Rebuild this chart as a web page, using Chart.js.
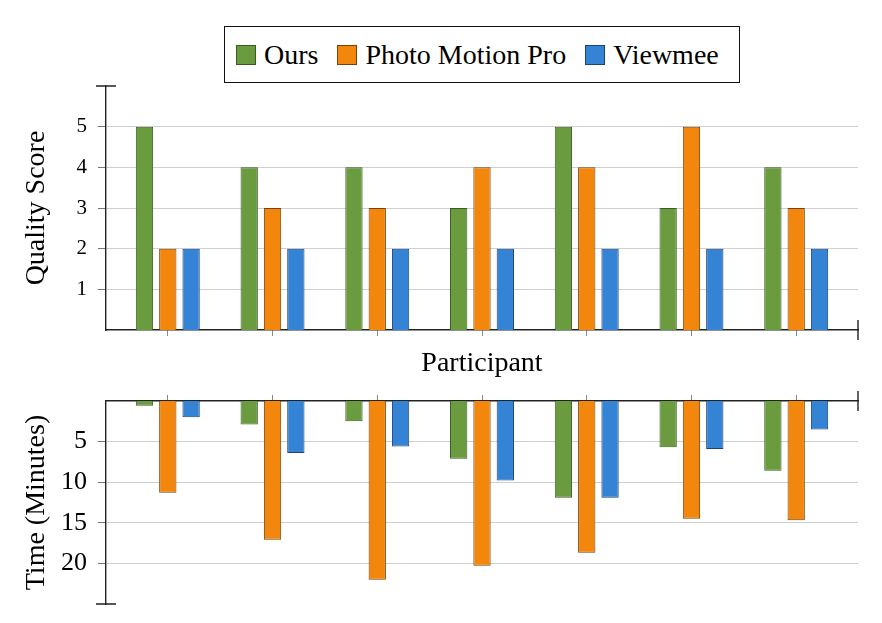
<!DOCTYPE html>
<html>
<head>
<meta charset="utf-8">
<script src="https://cdn.jsdelivr.net/npm/chart.js@4.4.1/dist/chart.umd.min.js"></script>
<style>
  body { margin: 0; background: #fff; width: 882px; height: 623px; position: relative; overflow: hidden; }
  canvas { position: absolute; left: 0; }
  #legend {
    position: absolute; left: 224px; top: 26px; width: 516px; height: 57px;
    border: 1.3px solid #111; display: flex; align-items: center; box-sizing: border-box;
    padding-left: 11px; font-family: "Liberation Serif", "Times New Roman", serif; font-size: 28px; color: #000;
  }
  #legend .item { display: flex; align-items: center; margin-right: 19px; }
  #legend .sw { width: 20px; height: 20px; margin-right: 8px; box-sizing: border-box; }
</style>
</head>
<body>
<div id="legend"></div>
<canvas id="quality" width="882" height="380" style="top:0"></canvas>
<canvas id="time" width="882" height="243" style="top:380px"></canvas>
<script>
// data
const participants = [1, 2, 3, 4, 5, 6, 7];
const seriesNames = ['Ours', 'Photo Motion Pro', 'Viewmee'];

const qualityOurs = [5, 4, 4, 3, 5, 3, 4];
const qualityPmp = [2, 3, 3, 4, 4, 5, 3];
const qualityViewmee = [2, 2, 2, 2, 2, 2, 2];

const timeOurs = [0.6, 2.9, 2.5, 7.1, 11.9, 5.7, 8.6];
const timePmp = [11.3, 17.1, 22.0, 20.3, 18.7, 14.5, 14.7];
const timeViewmee = [2.0, 6.4, 5.6, 9.8, 11.9, 5.9, 3.5];

const qualityTicks = [1, 2, 3, 4, 5];
const timeTicks = [5, 10, 15, 20];

const fills = ['rgb(106,155,62)', 'rgb(243,134,12)', 'rgb(53,131,212)'];
const edges = ['rgb(58,92,34)', 'rgb(120,66,6)', 'rgb(28,66,120)'];
const serif = '"Liberation Serif", "Times New Roman", serif';

// legend box
const legend = document.getElementById('legend');
seriesNames.forEach((name, i) => {
    const item = document.createElement('div');
    item.className = 'item';
    item.innerHTML = `<span class="sw" style="background:${fills[i]};border:1px solid ${edges[i]}"></span><span>${name}</span>`;
    legend.appendChild(item);
});

// the little perpendicular end marks on the axis lines
const axisEnds = {
    id: 'axisEnds',
    afterDraw(chart, args, opts) {
        const { ctx, chartArea: a } = chart;
        const yEnd = opts.flipped ? a.bottom : a.top;
        const xLine = opts.flipped ? a.top : a.bottom;
        ctx.save();
        ctx.strokeStyle = '#222';
        ctx.lineWidth = 1.4;
        ctx.beginPath();
        ctx.moveTo(a.left - 10, yEnd); ctx.lineTo(a.left + 10, yEnd);
        ctx.moveTo(a.right, xLine - 10); ctx.lineTo(a.right, xLine + 10);
        ctx.stroke();
        ctx.restore();
    }
};

function makeDatasets(lists) {
    return lists.map((vals, i) => ({
        label: seriesNames[i],
        data: vals.map((v, j) => ({ x: participants[j], y: v })),
        backgroundColor: fills[i],
        borderColor: edges[i],
        borderWidth: 1,
        categoryPercentage: 0.668,
        barPercentage: 0.742
    }));
}

function makeChart(id, lists, cfg) {
    return new Chart(document.getElementById(id), {
        type: 'bar',
        data: { datasets: makeDatasets(lists) },
        plugins: [axisEnds],
        options: {
            responsive: false,
            animation: false,
            layout: { padding: cfg.padding },
            plugins: {
                legend: { display: false },
                tooltip: { enabled: false },
                axisEnds: { flipped: cfg.flipped }
            },
            scales: {
                x: {
                    type: 'linear',
                    position: cfg.flipped ? 'top' : 'bottom',
                    min: 0.41, max: 7.59,
                    offset: false,
                    afterBuildTicks: ax => { ax.ticks = participants.map(v => ({ value: v })); },
                    afterFit: ax => { ax.height = cfg.xHeight; ax.paddingLeft = 0; ax.paddingRight = 0; },
                    ticks: { display: false },
                    grid: { offset: false, drawOnChartArea: false, tickLength: 6, tickColor: '#888' },
                    border: { display: true, color: '#222', width: 1.4 },
                    title: cfg.xTitle ? {
                        display: true, text: cfg.xTitle, color: '#000',
                        font: { family: serif, size: 28, lineHeight: 1 },
                        padding: { top: 0, bottom: 2 }
                    } : { display: false }
                },
                y: {
                    min: 0, max: cfg.yMax,
                    reverse: !!cfg.flipped,
                    afterBuildTicks: ax => { ax.ticks = cfg.yTicks.map(v => ({ value: v })); },
                    // fixed axis width, and no extra room for the tick labels
                    afterFit: ax => { ax.width = 106; ax.paddingTop = 0; ax.paddingBottom = 0; },
                    ticks: { color: '#000', padding: 11, font: { family: serif, size: cfg.tickSize } },
                    grid: { color: '#cfcfcf', lineWidth: 1, tickLength: 8, tickColor: '#777' },
                    border: { display: true, color: '#222', width: 1.4 },
                    title: {
                        display: true, text: cfg.yTitle, color: '#000',
                        font: { family: serif, size: 28, lineHeight: 1 },
                        padding: { top: 23, bottom: 0 }
                    }
                }
            }
        }
    });
}

makeChart('quality', [qualityOurs, qualityPmp, qualityViewmee], {
    padding: { top: 86, right: 24, left: 0, bottom: 0 },
    xHeight: 50, xTitle: 'Participant',
    yMax: 6, yTicks: qualityTicks, yTitle: 'Quality Score', tickSize: 21,
    flipped: false
});

makeChart('time', [timeOurs, timePmp, timeViewmee], {
    padding: { top: 0, right: 24, left: 0, bottom: 19 },
    xHeight: 21, xTitle: null,
    yMax: 25, yTicks: timeTicks, yTitle: 'Time (Minutes)', tickSize: 26,
    flipped: true
});
</script>
</body>
</html>
